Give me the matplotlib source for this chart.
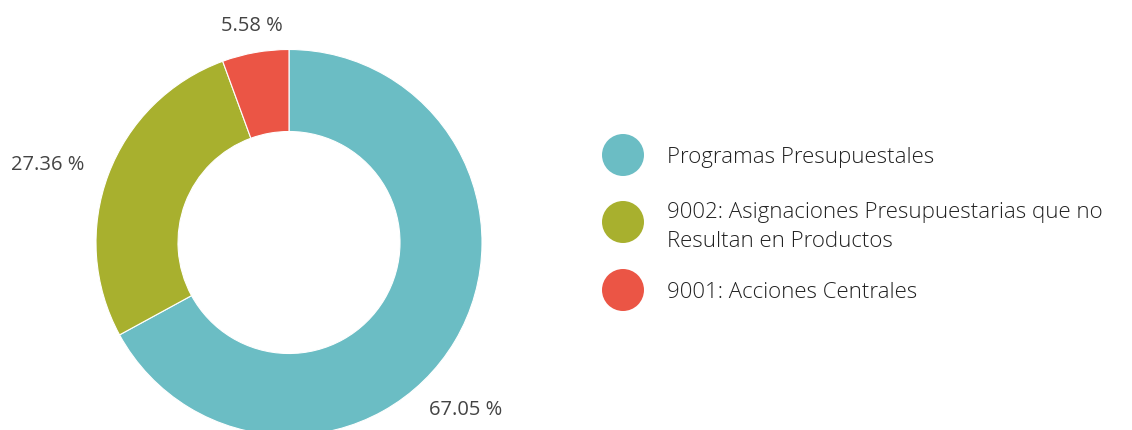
import matplotlib.pyplot as plt

# data
labels = ["Programas Presupuestales",
          "9002: Asignaciones Presupuestarias que no\nResultan en Productos",
          "9001: Acciones Centrales"]
values = [67.05, 27.36, 5.58]
colors = ["#6bbdc4", "#a8b02e", "#eb5545"]

# layout (pixels, from top-left)
W, H = 1132, 430
cx, cy, R, r = 289, 242.5, 193, 111
label_pos = [(466, 410), (48, 165), (252, 26)]
legend_x, circle_ys, text_ys, text_x = 623, [155, 222, 290], [158, 227, 293], 667

plt.rcParams['font.family'] = ['Open Sans', 'DejaVu Sans']

fig = plt.figure(figsize=(W / 100, H / 100), dpi=100)
ax = fig.add_axes([(cx - R) / W, (H - cy - R) / H, 2 * R / W, 2 * R / H])
ax.pie(values, colors=colors, startangle=90, counterclock=False, radius=1,
       wedgeprops=dict(width=1 - r / R, edgecolor="white", linewidth=0.8))
ax.set_xlim(-1, 1)
ax.set_ylim(-1, 1)
ax.set_aspect('equal')
ax.axis('off')

# overlay axes in pixel coords for labels and legend
lax = fig.add_axes([0, 0, 1, 1], zorder=3)
lax.set_xlim(0, W)
lax.set_ylim(H, 0)
lax.axis('off')

for v, (x, y) in zip(values, label_pos):
    lax.text(x, y, f"{v:.2f} %", ha='center', va='center', fontsize=14.5, color="#444444")

for lab, col, cyl, ty in zip(labels, colors, circle_ys, text_ys):
    lax.scatter([legend_x], [cyl], s=(42 * 0.72) ** 2, color=col, edgecolors='none')
    lax.text(text_x, ty, lab, ha='left', va='center', fontsize=16, color="#222222",
             fontweight='light', linespacing=1.45)

fig.savefig("out.png", dpi=100)
